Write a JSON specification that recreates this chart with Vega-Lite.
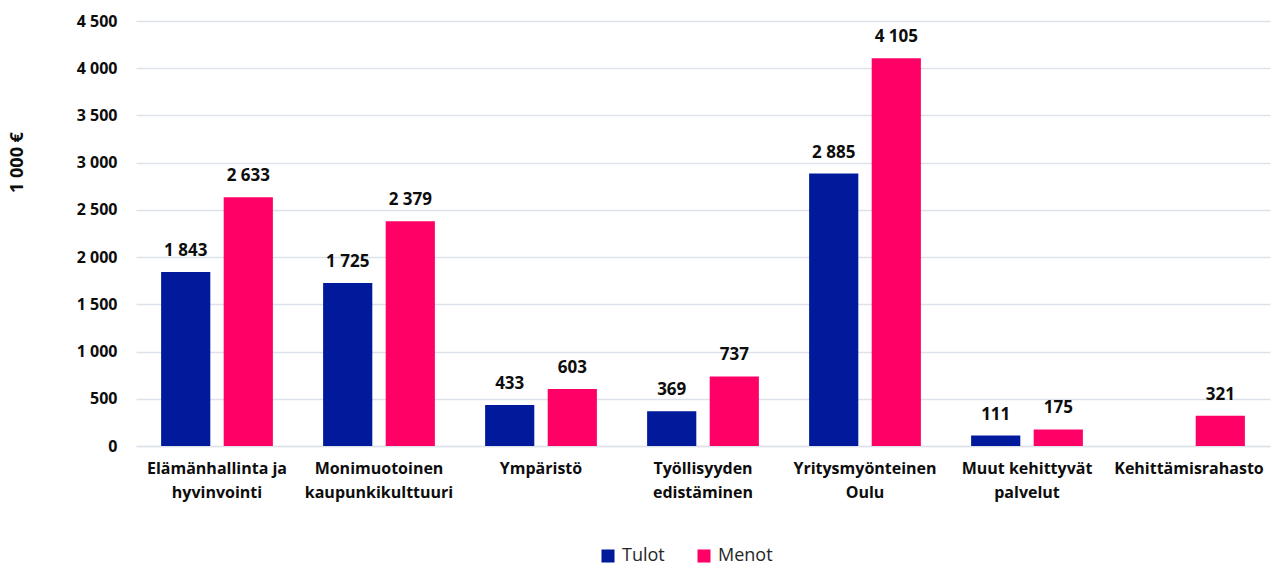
{
  "$schema": "https://vega.github.io/schema/vega-lite/v6.json",
  "autosize": "none",
  "width": 1134,
  "height": 425,
  "padding": {"left": 136, "top": 21, "right": 3, "bottom": 120},
  "config": {
    "view": {"stroke": null},
    "font": "Open Sans",
    "locale": {"number": {"decimal": ",", "thousands": " ", "grouping": [3], "currency": ["", " €"]}}
  },
  "data": {
    "values": [
      {"kategoria": "Elämänhallinta ja|hyvinvointi", "sarja": "Tulot", "arvo": 1843},
      {"kategoria": "Elämänhallinta ja|hyvinvointi", "sarja": "Menot", "arvo": 2633},
      {"kategoria": "Monimuotoinen|kaupunkikulttuuri", "sarja": "Tulot", "arvo": 1725},
      {"kategoria": "Monimuotoinen|kaupunkikulttuuri", "sarja": "Menot", "arvo": 2379},
      {"kategoria": "Ympäristö", "sarja": "Tulot", "arvo": 433},
      {"kategoria": "Ympäristö", "sarja": "Menot", "arvo": 603},
      {"kategoria": "Työllisyyden|edistäminen", "sarja": "Tulot", "arvo": 369},
      {"kategoria": "Työllisyyden|edistäminen", "sarja": "Menot", "arvo": 737},
      {"kategoria": "Yritysmyönteinen|Oulu", "sarja": "Tulot", "arvo": 2885},
      {"kategoria": "Yritysmyönteinen|Oulu", "sarja": "Menot", "arvo": 4105},
      {"kategoria": "Muut kehittyvät|palvelut", "sarja": "Tulot", "arvo": 111},
      {"kategoria": "Muut kehittyvät|palvelut", "sarja": "Menot", "arvo": 175},
      {"kategoria": "Kehittämisrahasto", "sarja": "Menot", "arvo": 321}
    ]
  },
  "encoding": {
    "x": {
      "field": "kategoria", "type": "nominal", "sort": null,
      "scale": {"paddingInner": 0.31, "paddingOuter": 0.155},
      "axis": {
        "title": null, "labelAngle": 0, "ticks": false,
        "labelExpr": "split(datum.label, '|')",
        "labelFont": "Open Sans", "labelFontSize": 16, "labelFontWeight": "bold",
        "labelColor": "#0d0d0d", "labelPadding": 14, "labelLineHeight": 24,
        "domainColor": "#dde2ea", "domainWidth": 1.5, "labelLimit": 200
      }
    },
    "xOffset": {
      "field": "sarja", "type": "nominal", "sort": ["Tulot", "Menot"],
      "scale": {"domain": ["Tulot", "Menot"], "paddingInner": 0.214, "paddingOuter": 0}
    },
    "y": {
      "field": "arvo", "type": "quantitative",
      "scale": {"domain": [0, 4500], "nice": false},
      "axis": {
        "values": [0, 500, 1000, 1500, 2000, 2500, 3000, 3500, 4000, 4500],
        "format": ",d", "domain": false, "ticks": false,
        "gridColor": "#dde2ea", "gridWidth": 1.5,
        "labelFont": "Open Sans", "labelFontSize": 16, "labelFontWeight": "bold",
        "labelColor": "#0d0d0d", "labelPadding": 19,
        "title": "1 000 €", "titleFont": "Open Sans", "titleFontSize": 18,
        "titleFontWeight": "bold", "titleColor": "#0d0d0d",
        "titleAngle": 270, "titleX": -110, "titleY": 141
      }
    },
    "color": {
      "field": "sarja", "type": "nominal",
      "scale": {"domain": ["Tulot", "Menot"], "range": ["#001a9b", "#ff0066"]},
      "legend": {
        "title": null, "orient": "none", "direction": "horizontal",
        "legendX": 463, "legendY": 526,
        "symbolType": "square", "symbolSize": 170, "symbolStrokeWidth": 0,
        "labelFont": "Open Sans", "labelFontSize": 18, "labelColor": "#262626",
        "columnPadding": 30, "labelOffset": 5
      }
    }
  },
  "layer": [
    {"mark": {"type": "bar"}},
    {
      "mark": {"type": "text", "baseline": "bottom", "dy": -12, "fontSize": 17, "fontWeight": "bold", "font": "Open Sans"},
      "encoding": {"text": {"field": "arvo", "type": "quantitative", "format": ",d"}, "color": {"value": "#0d0d0d"}}
    }
  ]
}
